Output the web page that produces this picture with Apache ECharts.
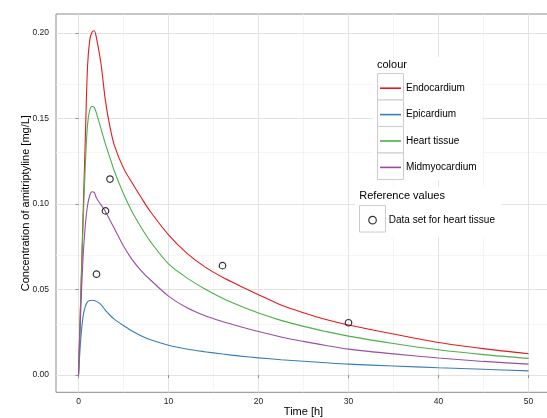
<!DOCTYPE html>
<html>
<head>
<meta charset="utf-8">
<script src="https://cdn.jsdelivr.net/npm/echarts@6/dist/echarts.min.js"></script>
<style>html,body{margin:0;padding:0;background:#fff}#c{width:547px;height:418px}</style>
</head>
<body>
<div id="c"></div>
<script>
var timeH = [0, 0.25, 0.5, 0.75, 1, 1.25, 1.5, 1.75, 2, 2.5, 3, 3.5, 4, 5, 6, 7, 8, 10, 12, 14, 16, 18, 20, 22.5, 25, 27.5, 30, 35, 40, 45, 50];
var endocardium = [0, 0.046, 0.092, 0.137, 0.180, 0.196, 0.2005, 0.2013, 0.197, 0.182, 0.160, 0.145, 0.134, 0.121, 0.112, 0.1035, 0.0955, 0.082, 0.0715, 0.0634, 0.0572, 0.052, 0.047, 0.041, 0.0365, 0.0325, 0.0293, 0.024, 0.0191, 0.0155, 0.0125];
var epicardium = [0, 0.021, 0.034, 0.040, 0.0428, 0.0436, 0.0438, 0.0436, 0.0431, 0.0412, 0.0378, 0.0350, 0.0326, 0.0290, 0.0256, 0.0229, 0.0207, 0.0175, 0.0153, 0.0137, 0.0123, 0.0111, 0.0101, 0.0090, 0.0081, 0.0072, 0.0064, 0.0053, 0.0043, 0.0034, 0.0025];
var heartTissue = [0, 0.045, 0.087, 0.122, 0.146, 0.155, 0.157, 0.1565, 0.153, 0.144, 0.135, 0.127, 0.119, 0.106, 0.095, 0.086, 0.078, 0.065, 0.057, 0.0505, 0.045, 0.0404, 0.0363, 0.032, 0.0285, 0.0255, 0.0228, 0.0185, 0.0148, 0.012, 0.0098];
var midmyocardium = [0, 0.038, 0.068, 0.087, 0.099, 0.105, 0.1072, 0.1068, 0.1035, 0.0995, 0.0955, 0.0905, 0.0855, 0.0755, 0.0672, 0.0608, 0.0556, 0.0462, 0.0395, 0.0348, 0.0313, 0.0283, 0.0255, 0.0223, 0.0197, 0.0173, 0.0152, 0.0124, 0.0100, 0.0080, 0.0064];
var refTimes = [2, 3, 3.5, 16, 30];
var refValues = [0.059, 0.096, 0.1146, 0.064, 0.0306];
var seriesNames = ['Endocardium', 'Epicardium', 'Heart tissue', 'Midmyocardium'];
var seriesColors = ['#E41A1C', '#377EB8', '#4DAF4A', '#984EA3'];
var refName = 'Data set for heart tissue';
var xTicks = [0, 10, 20, 30, 40, 50];
var xMinor = [5, 15, 25, 35, 45];
var yTicks = [0, 0.05, 0.10, 0.15, 0.20];
var yMinor = [0.025, 0.075, 0.125, 0.175];

var FONT = '"Liberation Sans", Arial, Helvetica, sans-serif';
function pairs(xs, ys) { return xs.map(function (x, i) { return [x, ys[i]]; }); }
var curveData = [endocardium, epicardium, heartTissue, midmyocardium];

var series = [];
series.push({
  type: 'line', data: [], silent: true, z: 0,
  markLine: {
    silent: true, symbol: 'none', z: 0, animation: false,
    label: { show: false },
    lineStyle: { color: '#f3f3f3', width: 0.8, type: 'solid' },
    data: xMinor.map(function (v) { return { xAxis: v }; }).concat(yMinor.map(function (v) { return { yAxis: v }; }))
  }
});
series.push({
  type: 'line', data: [], silent: true, z: 0,
  markLine: {
    silent: true, symbol: 'none', z: 0, animation: false,
    label: { show: false },
    lineStyle: { color: '#e3e3e3', width: 1, type: 'solid' },
    data: xTicks.map(function (v) { return { xAxis: v }; }).concat(yTicks.map(function (v) { return { yAxis: v }; }))
  }
});
seriesNames.forEach(function (n, i) {
  series.push({
    name: n, type: 'line', data: pairs(timeH, curveData[i]),
    symbol: 'none', smooth: 0.3, z: 2,
    lineStyle: { color: seriesColors[i], width: 1.1 },
    itemStyle: { color: seriesColors[i] }
  });
});
series.push({
  name: refName, type: 'scatter', data: pairs(refTimes, refValues),
  symbol: 'circle', symbolSize: 6.5, z: 3,
  itemStyle: { color: 'rgba(0,0,0,0)', borderColor: '#000', borderWidth: 1.2 }
});

var option = {
  animation: false,
  backgroundColor: '#fff',
  grid: { left: 56, top: 14, right: -4, bottom: 25.7, outerBoundsMode: 'none', containLabel: false,
    show: true, borderColor: '#8c8c8c', borderWidth: 1, backgroundColor: 'rgba(0,0,0,0)' },
  xAxis: {
    type: 'value', min: -2.5, max: 52.5,
    splitLine: { show: false }, axisLine: { show: false },
    axisTick: { show: true, customValues: xTicks, length: 3, lineStyle: { color: '#8c8c8c' } },
    axisLabel: { customValues: xTicks, margin: 5, fontSize: 8.5, color: '#222', fontFamily: FONT },
    name: 'Time [h]', nameLocation: 'middle', nameGap: 14, nameMoveOverlap: false,
    nameTextStyle: { fontSize: 11, color: '#000', fontFamily: FONT }
  },
  yAxis: {
    type: 'value', min: -0.01005, max: 0.2111,
    splitLine: { show: false }, axisLine: { show: false },
    axisTick: { show: true, customValues: yTicks, length: 3, lineStyle: { color: '#8c8c8c' } },
    axisLabel: { customValues: yTicks, margin: 7, fontSize: 8.5, color: '#222', fontFamily: FONT,
      formatter: function (v) { return v.toFixed(2); } },
    name: 'Concentration of amitriptyline [mg/L]', nameLocation: 'middle', nameGap: 25, nameMoveOverlap: false,
    nameTextStyle: { fontSize: 11, color: '#000', fontFamily: FONT }
  },
  legend: [
    {
      orient: 'vertical', left: 380, top: 81.2, padding: 0, itemWidth: 21, itemHeight: 1.6, itemGap: 12.4,
      selectedMode: false, z: 6, icon: 'rect',
      data: seriesNames,
      textStyle: { fontSize: 10, lineHeight: 14, color: '#000', fontFamily: FONT }
    },
    {
      orient: 'vertical', left: 368.2, top: 213.2, padding: 0, itemWidth: 7.5, itemHeight: 7.5,
      selectedMode: false, z: 6,
      data: [{ name: refName, icon: 'circle', itemStyle: { color: 'rgba(0,0,0,0)', borderColor: '#000', borderWidth: 1.2 } }],
      textStyle: { fontSize: 10, lineHeight: 14, color: '#000', fontFamily: FONT, padding: [0, 0, 0, 7.5] }
    }
  ],
  graphic: [
    { type: 'rect', z: 5, shape: { x: 373, y: 56.7, width: 109, height: 123.3 }, style: { fill: '#fff' } },
    { type: 'rect', z: 5, shape: { x: 355, y: 186.7, width: 146, height: 50 }, style: { fill: '#fff' } },
    { type: 'rect', z: 5, shape: { x: 377.5, y: 73.5, width: 26, height: 26.5 }, style: { fill: '#fff', stroke: '#cccccc', lineWidth: 1 } },
    { type: 'rect', z: 5, shape: { x: 377.5, y: 100, width: 26, height: 26.5 }, style: { fill: '#fff', stroke: '#cccccc', lineWidth: 1 } },
    { type: 'rect', z: 5, shape: { x: 377.5, y: 126.5, width: 26, height: 26.5 }, style: { fill: '#fff', stroke: '#cccccc', lineWidth: 1 } },
    { type: 'rect', z: 5, shape: { x: 377.5, y: 153, width: 26, height: 26.5 }, style: { fill: '#fff', stroke: '#cccccc', lineWidth: 1 } },
    { type: 'rect', z: 5, shape: { x: 359.5, y: 205.5, width: 26, height: 26.5 }, style: { fill: '#fff', stroke: '#cccccc', lineWidth: 1 } },
    { type: 'text', z: 6, left: 377, top: 59, style: { text: 'colour', fontSize: 11, fill: '#000', fontFamily: FONT } },
    { type: 'text', z: 6, left: 359.3, top: 190.5, style: { text: 'Reference values', fontSize: 11, fill: '#000', fontFamily: FONT } }
  ],
  series: series
};
var chart = echarts.init(document.getElementById('c'), null, { renderer: 'canvas' });
chart.setOption(option);
</script>
</body>
</html>
